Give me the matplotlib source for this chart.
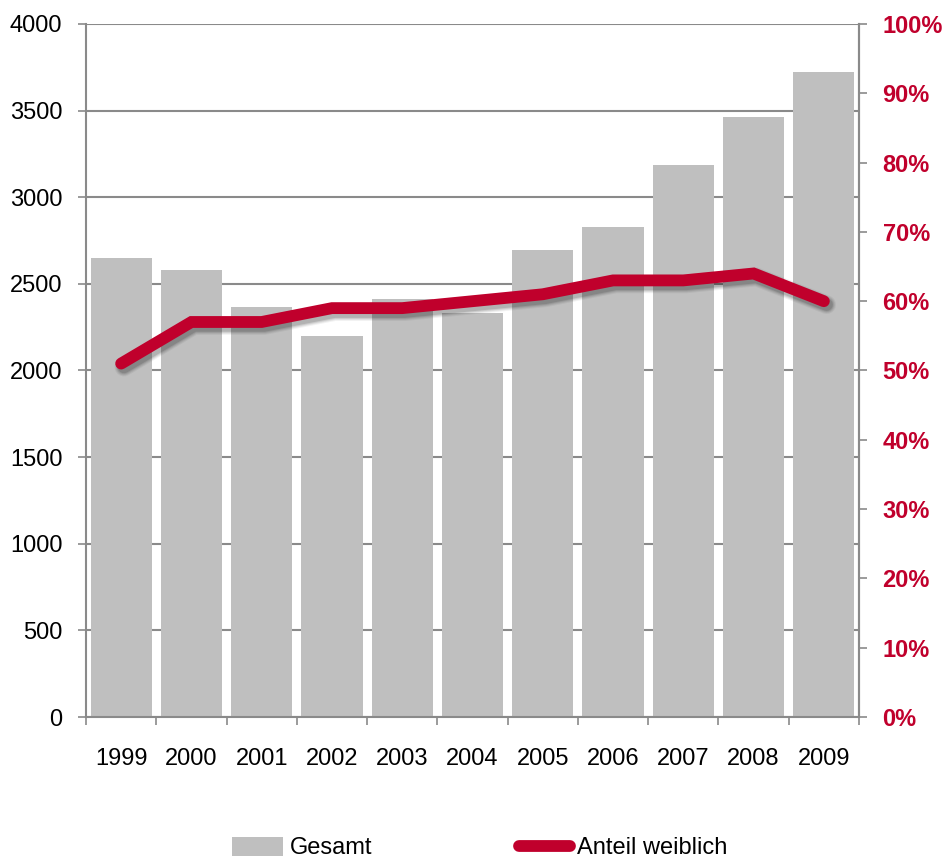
import matplotlib
matplotlib.use("Agg")
import matplotlib.pyplot as plt
import matplotlib.patheffects as pe
from matplotlib.lines import Line2D
from matplotlib.patches import Patch
import numpy as np

years = ["1999", "2000", "2001", "2002", "2003", "2004", "2005", "2006", "2007", "2008", "2009"]
gesamt = [2647, 2578, 2366, 2200, 2414, 2333, 2695, 2827, 3185, 3462, 3724]
anteil_weiblich = [51, 57, 57, 59, 59, 60, 61, 63, 63, 64, 60]

left_ticks = [0, 500, 1000, 1500, 2000, 2500, 3000, 3500, 4000]
right_ticks = [0, 10, 20, 30, 40, 50, 60, 70, 80, 90, 100]

plt.rcParams["font.family"] = ["Liberation Sans", "DejaVu Sans"]

BAR = "#BFBFBF"
RED = "#C0002C"
GRID = "#8A8A8A"
LW = 8.5

fig = plt.figure(figsize=(9.43, 8.65), dpi=100)
ax = fig.add_axes([86 / 943, 1 - 717 / 865, (859 - 86) / 943, (717 - 24) / 865])
ax2 = ax.twinx()

x = np.arange(len(years))
ax.bar(x, gesamt, width=0.87, color=BAR, zorder=2)
ax.set_xlim(-0.5, len(years) - 0.5)
ax.set_ylim(0, 4000)
ax.set_yticks(left_ticks)
ax.set_yticklabels([str(v) for v in left_ticks])
ax.yaxis.grid(True, color=GRID, linewidth=1.5, zorder=0)
ax.set_axisbelow(True)

# category boundaries as major ticks, year labels at centres
ax.set_xticks(np.arange(-0.5, len(years), 1.0))
ax.set_xticklabels([])
ax.set_xticks(x, minor=True)
ax.set_xticklabels(years, minor=True)
ax.tick_params(axis="x", which="major", length=6, width=1.2, color=GRID, direction="out")
ax.tick_params(axis="x", which="minor", length=0, pad=22, labelsize=17)
ax.tick_params(axis="y", length=6, width=1.2, color=GRID, pad=11, labelsize=17)

for a in (ax, ax2):
    a.spines["top"].set_visible(False)
for s in ["left", "right", "bottom"]:
    ax.spines[s].set_color(GRID)
    ax.spines[s].set_linewidth(1.5)
ax2.spines["right"].set_color(GRID)
ax2.spines["right"].set_linewidth(1.5)
ax2.spines["left"].set_visible(False)
ax2.spines["bottom"].set_visible(False)

# soft drop shadow built from a few widening, fading layers
shadow = [pe.SimpleLineShadow(offset=(2.0, -2.5), shadow_color="black",
                              alpha=a, linewidth=LW + w)
          for w, a in [(5.0, 0.05), (3.5, 0.07), (2.0, 0.09), (0.5, 0.12)]]
ax2.plot(x, anteil_weiblich, color=RED, linewidth=LW, solid_capstyle="round",
         solid_joinstyle="miter", zorder=3, path_effects=shadow + [pe.Normal()])
ax2.set_ylim(0, 100)
ax2.set_yticks(right_ticks)
ax2.set_yticklabels([f"{v}%" for v in right_ticks], color=RED, fontweight="bold")
ax2.tick_params(axis="y", length=6, width=1.2, color=GRID, pad=11, labelsize=17)

handles = [Patch(facecolor=BAR, edgecolor="none"),
           Line2D([0], [0], color=RED, linewidth=LW, solid_capstyle="round")]
fig.legend(handles, ["Gesamt", "Anteil weiblich"], loc="center left", ncol=2,
           bbox_to_anchor=(232 / 943, 1 - 848 / 865), frameon=False, fontsize=17,
           borderpad=0, borderaxespad=0,
           handlelength=2.15, handleheight=0.9, handletextpad=0.3, columnspacing=6.2)

fig.savefig("out.png", dpi=100)
